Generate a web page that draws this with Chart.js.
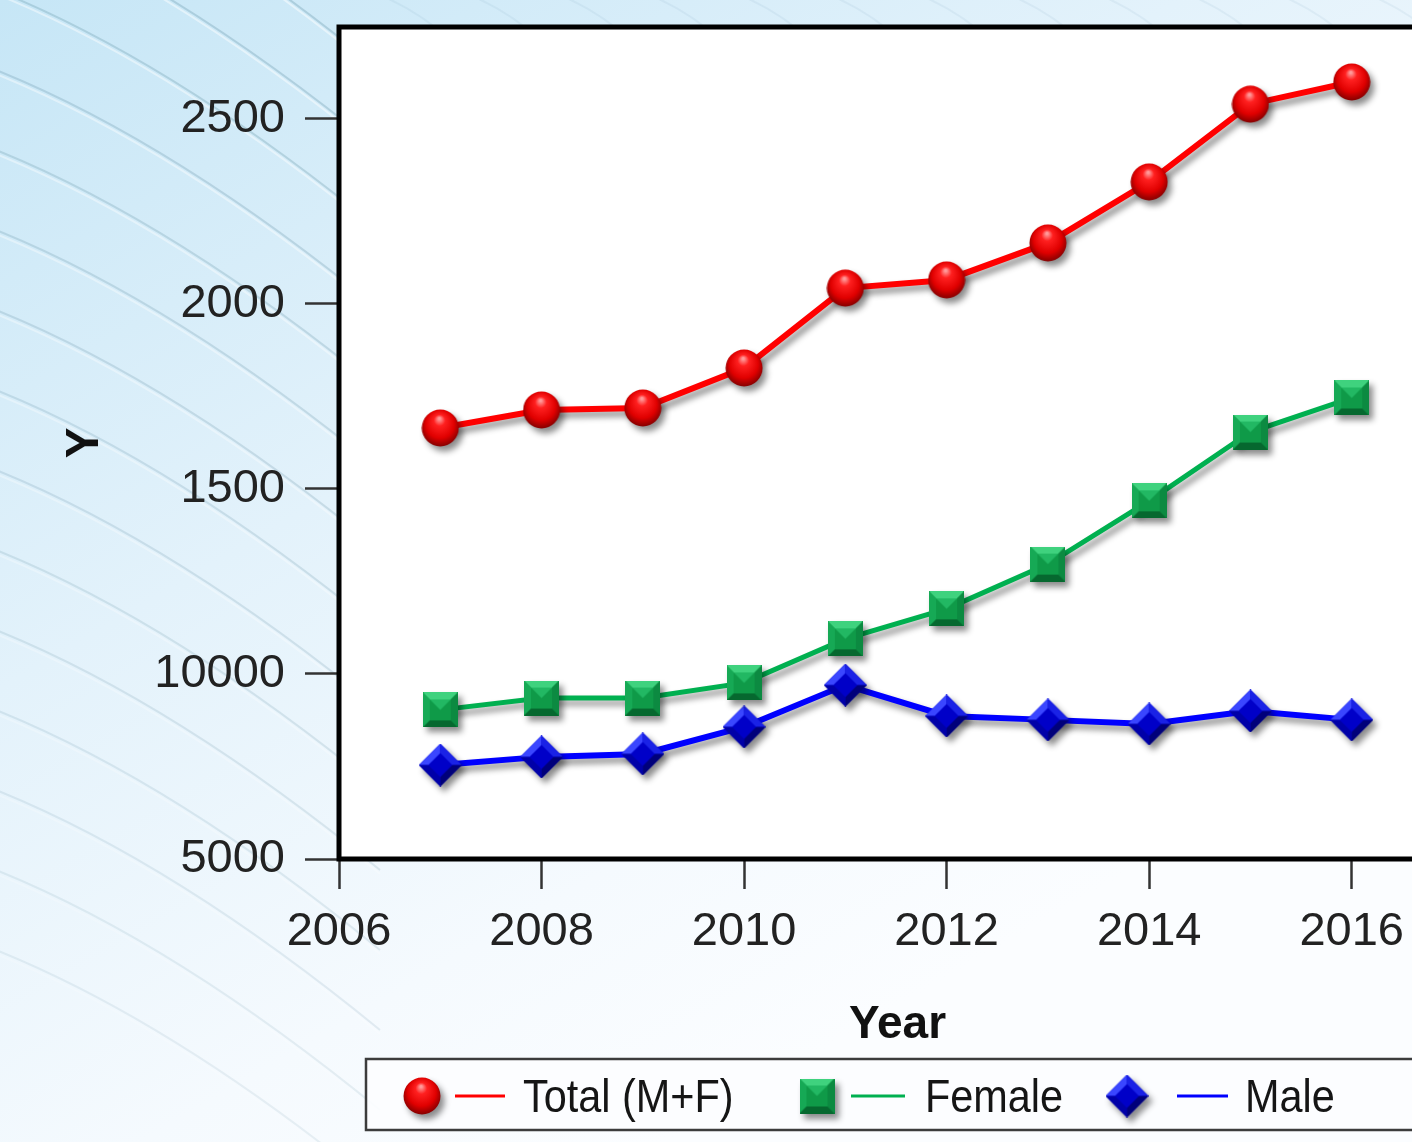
<!DOCTYPE html>
<html>
<head>
<meta charset="utf-8">
<script src="https://cdn.jsdelivr.net/npm/chart.js@4.4.1/dist/chart.umd.min.js"></script>
<style>
html, body { margin: 0; padding: 0; overflow: hidden; background: #f6fafd; }
#wrap { position: relative; width: 1480px; height: 1142px; }
</style>
</head>
<body>
<div id="wrap"><canvas id="chart"></canvas></div>
<script>
// données
const years = [2007, 2008, 2009, 2010, 2011, 2012, 2013, 2014, 2015, 2016];
const totalValues = [16650, 17135, 17190, 18270, 20430, 20650, 21650, 23300, 25400, 26000];
const femaleValues = [9030, 9350, 9350, 9760, 10950, 11760, 12970, 14680, 16540, 17460];
const maleValues = [7540, 7760, 7840, 8570, 9700, 8865, 8760, 8650, 9000, 8760];
const seriesNames = ["Total (M+F)", "Female", "Male"];

const xTickValues = [2006, 2008, 2010, 2012, 2014, 2016];
const yTickValues = [5000, 10000, 15000, 20000, 25000];
const yTickLabels = ["5000", "10000", "1500", "2000", "2500"];

const FONT = '"Liberation Sans", Arial, sans-serif';

// --- marqueurs "3D" dessinés une fois dans des petits canvas ---
function makeBall(d) {
    const c = document.createElement("canvas");
    c.width = c.height = d;
    const g = c.getContext("2d");
    const r = d / 2;
    const grad = g.createRadialGradient(r * 0.95, r * 0.5, r * 0.05, r, r * 0.9, r * 1.05);
    grad.addColorStop(0, "#ff9a9a");
    grad.addColorStop(0.25, "#ff2020");
    grad.addColorStop(0.7, "#e00000");
    grad.addColorStop(1, "#8a0000");
    g.fillStyle = grad;
    g.beginPath();
    g.arc(r, r, r - 0.5, 0, Math.PI * 2);
    g.fill();
    return c;
}

function makeSquare(s) {
    const c = document.createElement("canvas");
    c.width = c.height = s;
    const g = c.getContext("2d");
    const b = s * 0.2;
    const poly = (pts, col) => {
        g.fillStyle = col;
        g.beginPath();
        pts.forEach((p, i) => i ? g.lineTo(p[0], p[1]) : g.moveTo(p[0], p[1]));
        g.closePath();
        g.fill();
    };
    poly([[0, 0], [s, 0], [s, s], [0, s]], "#0f9a48");
    poly([[0, 0], [s, 0], [s - b, b], [b, b]], "#3fd27e");       // haut
    poly([[0, 0], [b, b], [b, s - b], [0, s]], "#16a955");       // gauche
    poly([[s, 0], [s, s], [s - b, s - b], [s - b, b]], "#0c8a41"); // droite
    poly([[0, s], [b, s - b], [s - b, s - b], [s, s]], "#06682f"); // bas
    // petit reflet en pyramide au centre
    poly([[b, b], [s - b, b], [s / 2, s / 2]], "#22b863");
    return c;
}

function makeDiamond(s) {
    const c = document.createElement("canvas");
    c.width = c.height = s;
    const g = c.getContext("2d");
    const m = s / 2, k = s * 0.22;
    const poly = (pts, col) => {
        g.fillStyle = col;
        g.beginPath();
        pts.forEach((p, i) => i ? g.lineTo(p[0], p[1]) : g.moveTo(p[0], p[1]));
        g.closePath();
        g.fill();
    };
    poly([[m, 0], [s, m], [m, s], [0, m]], "#0000c8");
    poly([[m, 0], [m, k], [k, m], [0, m]], "#3a46ff");     // haut gauche
    poly([[m, 0], [s, m], [s - k, m], [m, k]], "#1a22e6"); // haut droite
    poly([[0, m], [k, m], [m, s - k], [m, s]], "#0000a8"); // bas gauche
    poly([[s, m], [m, s], [m, s - k], [s - k, m]], "#00007a"); // bas droite
    return c;
}

const ballImg = makeBall(38);
const squareImg = makeSquare(35);
const diamondImg = makeDiamond(43);

const seriesColors = ["#ff0000", "#00b050", "#0000ff"];
const seriesMarkers = [ballImg, squareImg, diamondImg];

// --- fond dégradé bleu avec les courbes ---
const backdropPlugin = {
    id: "backdrop",
    beforeDraw(chart) {
        const { ctx, width, height, chartArea } = chart;
        ctx.save();
        const grad = ctx.createLinearGradient(0, 0, width * 0.45, height);
        grad.addColorStop(0, "#c6e6f6");
        grad.addColorStop(0.45, "#e3f2fb");
        grad.addColorStop(0.8, "#f5fafe");
        grad.addColorStop(1, "#fbfdff");
        ctx.fillStyle = grad;
        ctx.fillRect(0, 0, width, height);

        for (let i = 0; i < 16; i++) {
            const y0 = -260 + i * 80;
            const a = Math.max(0, 0.28 - i * 0.012);
            ctx.lineWidth = 2;
            ctx.strokeStyle = `rgba(80,130,150,${a})`;
            ctx.beginPath();
            ctx.moveTo(-30, y0);
            ctx.quadraticCurveTo(160, y0 + 70, 380, y0 + 250);
            ctx.stroke();
            ctx.strokeStyle = `rgba(255,255,255,${a * 1.8})`;
            ctx.beginPath();
            ctx.moveTo(-30, y0 + 4);
            ctx.quadraticCurveTo(160, y0 + 74, 380, y0 + 254);
            ctx.stroke();
        }
        for (let i = 0; i < 12; i++) {
            const x0 = 380 + i * 90;
            ctx.lineWidth = 2;
            ctx.strokeStyle = "rgba(120,160,190,0.10)";
            ctx.beginPath();
            ctx.moveTo(x0, -5);
            ctx.quadraticCurveTo(x0 + 40, 12, x0 + 70, 40);
            ctx.stroke();
        }

        ctx.fillStyle = "#ffffff";
        ctx.fillRect(chartArea.left, chartArea.top, chartArea.right - chartArea.left, chartArea.bottom - chartArea.top);
        ctx.restore();
    },
    afterDraw(chart) {
        const { ctx, chartArea } = chart;
        ctx.save();
        ctx.strokeStyle = "#000";
        ctx.lineWidth = 5;
        ctx.strokeRect(chartArea.left, chartArea.top, chartArea.right - chartArea.left, chartArea.bottom - chartArea.top);
        ctx.restore();
    }
};

// --- ombre portée sous les courbes et marqueurs ---
const shadowPlugin = {
    id: "dropShadow",
    beforeDatasetDraw(chart) {
        const ctx = chart.ctx;
        ctx.save();
        ctx.shadowColor = "rgba(0,0,0,0.45)";
        ctx.shadowBlur = 6;
        ctx.shadowOffsetX = 4;
        ctx.shadowOffsetY = 5;
    },
    afterDatasetDraw(chart) {
        chart.ctx.restore();
    }
};

// --- légende encadrée en bas ---
const boxLegendPlugin = {
    id: "boxLegend",
    afterDraw(chart) {
        const ctx = chart.ctx;
        ctx.save();
        ctx.fillStyle = "rgba(252,253,255,0.92)";
        ctx.fillRect(366, 1059, 1110, 71);
        ctx.strokeStyle = "#3c3c3c";
        ctx.lineWidth = 2.5;
        ctx.strokeRect(366, 1059, 1110, 71);

        const items = [
            { mx: 422, line: [455, 505], tx: 523 },
            { mx: 817, line: [851, 905], tx: 925 },
            { mx: 1127, line: [1177, 1228], tx: 1245 }
        ];
        const cy = 1096;
        items.forEach((it, i) => {
            const img = seriesMarkers[i];
            ctx.save();
            ctx.shadowColor = "rgba(0,0,0,0.45)";
            ctx.shadowBlur = 6;
            ctx.shadowOffsetX = 4;
            ctx.shadowOffsetY = 5;
            ctx.drawImage(img, it.mx - img.width / 2, cy - img.height / 2);
            ctx.restore();

            ctx.strokeStyle = seriesColors[i];
            ctx.lineWidth = 3;
            ctx.beginPath();
            ctx.moveTo(it.line[0], cy);
            ctx.lineTo(it.line[1], cy);
            ctx.stroke();

            ctx.save();
            ctx.translate(it.tx, 1112);
            ctx.scale(0.9, 1);
            ctx.fillStyle = "#151515";
            ctx.font = `46px ${FONT}`;
            ctx.textBaseline = "alphabetic";
            ctx.fillText(seriesNames[i], 0, 0);
            ctx.restore();
        });
        ctx.restore();
    }
};

const makeData = vals => years.map((yr, i) => ({ x: yr, y: vals[i] }));

// on neutralise les marges que Chart.js ajoute pour les étiquettes
const noEdgePadding = s => {
    s.paddingTop = 0;
    s.paddingBottom = 0;
    s.paddingLeft = 0;
    s.paddingRight = 0;
};

const chart = new Chart(document.getElementById("chart"), {
    type: "line",
    data: {
        datasets: [totalValues, femaleValues, maleValues].map((vals, i) => ({
            label: seriesNames[i],
            data: makeData(vals),
            borderColor: seriesColors[i],
            backgroundColor: seriesColors[i],
            borderWidth: i === 1 ? 5 : 6,
            tension: 0,
            pointStyle: seriesMarkers[i],
            pointRadius: 18,
            pointHoverRadius: 18
        }))
    },
    plugins: [backdropPlugin, shadowPlugin, boxLegendPlugin],
    options: {
        responsive: true,
        maintainAspectRatio: false,
        animation: false,
        events: [],
        layout: { padding: { top: 27, left: 0, right: 10, bottom: 0 } },
        plugins: {
            legend: { display: false },
            tooltip: { enabled: false }
        },
        scales: {
            x: {
                type: "linear",
                min: 2006,
                max: 2017.03,
                afterBuildTicks: s => { s.ticks = xTickValues.map(v => ({ value: v })); },
                afterFit: s => { s.height = 283; noEdgePadding(s); },
                border: { display: false },
                grid: { drawOnChartArea: false, tickLength: 30, tickWidth: 2.5, tickColor: "#333", color: "#333" },
                ticks: {
                    autoSkip: false,
                    maxRotation: 0,
                    padding: 15,
                    color: "#222",
                    font: { family: FONT, size: 47 },
                    callback: v => String(v)
                },
                title: {
                    display: true,
                    text: "Year",
                    color: "#111",
                    font: { family: FONT, size: 46, weight: "bold" },
                    padding: { top: 0, bottom: 89 }
                }
            },
            y: {
                type: "linear",
                min: 5000,
                max: 27486,
                afterBuildTicks: s => { s.ticks = yTickValues.map(v => ({ value: v })); },
                afterFit: s => { s.width = 339; noEdgePadding(s); },
                border: { display: false },
                grid: { drawOnChartArea: false, tickLength: 34, tickWidth: 2.5, tickColor: "#333", color: "#333" },
                ticks: {
                    padding: 20,
                    color: "#222",
                    font: { family: FONT, size: 47 },
                    callback: v => yTickLabels[yTickValues.indexOf(v)]
                },
                title: {
                    display: true,
                    text: "Y",
                    color: "#111",
                    font: { family: FONT, size: 46, weight: "bold" },
                    padding: { top: 58, bottom: 0 }
                }
            }
        }
    }
});
</script>
</body>
</html>
